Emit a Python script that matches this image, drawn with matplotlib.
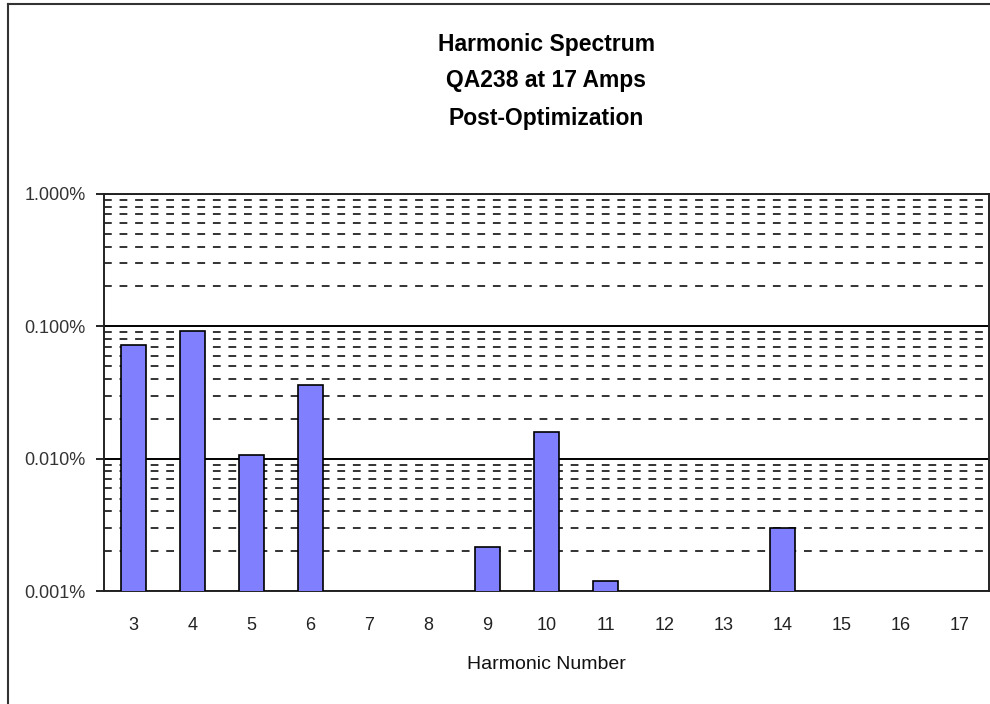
import matplotlib
matplotlib.use('Agg')
import numpy as np
import matplotlib.pyplot as plt
from matplotlib.ticker import LogLocator, FixedLocator, FuncFormatter, NullFormatter
from matplotlib.lines import Line2D

# harmonic spectrum, values in percent of fundamental (0 = not shown)
harmonics = [3, 4, 5, 6, 7, 8, 9, 10, 11, 12, 13, 14, 15, 16, 17]
values = [0.0728, 0.0927, 0.0107, 0.0359, 0, 0, 0.00216, 0.0158, 0.00119, 0, 0, 0.00298, 0, 0, 0]
title_lines = ["Harmonic Spectrum", "QA238 at 17 Amps", "Post-Optimization"]
y_ticks = [0.001, 0.01, 0.1, 1.0]

plt.rcParams['font.family'] = ['Liberation Sans', 'DejaVu Sans']

fig = plt.figure(figsize=(9.9, 7.04), dpi=100)
W, H = 990, 704

# chart-area border (Excel style), right/bottom run off the picture
fig.add_artist(Line2D([8 / W, 8 / W], [0, 1 - 4 / H], color='#333333', lw=1.5))
fig.add_artist(Line2D([8 / W, 1], [1 - 4 / H, 1 - 4 / H], color='#333333', lw=1.5))

ax = fig.add_axes([104 / W, 1 - 591 / H, 885 / W, (591 - 194) / H])
ax.set_yscale('log')

pos = np.arange(len(harmonics))
shown = [i for i, v in enumerate(values) if v > 0]
ax.bar([pos[i] for i in shown], [values[i] for i in shown], width=0.42,
       color='#8080FF', edgecolor='black', linewidth=1.2, zorder=3)

ax.set_ylim(0.001, 1.0)
ax.set_xlim(-0.5, len(harmonics) - 0.5)

ax.yaxis.set_major_locator(FixedLocator(y_ticks))
ax.yaxis.set_major_formatter(FuncFormatter(lambda v, p: '%.3f%%' % v))
ax.yaxis.set_minor_locator(LogLocator(base=10, subs=np.arange(2, 10)))
ax.yaxis.set_minor_formatter(NullFormatter())

ax.set_xticks(pos)
ax.set_xticklabels([str(h) for h in harmonics])

ax.grid(True, which='major', axis='y', color='black', linestyle='-', linewidth=1.4, zorder=1)
ax.grid(True, which='minor', axis='y', color='#333333', linestyle=(0, (4, 4)), linewidth=1.4, zorder=1)
ax.set_axisbelow(True)

ax.tick_params(axis='y', which='major', length=6, width=1.2, direction='out', pad=7,
               labelsize=13, labelcolor='#333333')
ax.tick_params(axis='y', which='minor', length=0)
ax.tick_params(axis='x', length=0, pad=19, labelsize=13, labelcolor='#222222')

for s in ax.spines.values():
    s.set_linewidth(1.4)
    s.set_color('#222222')

ax.set_xlabel("Harmonic Number", fontsize=14, color='#111111')
ax.xaxis.set_label_coords(0.5, -0.164)

for txt, yy in zip(title_lines, [45, 81, 118]):
    fig.text(546 / W, 1 - yy / H, txt, ha='center', va='center',
             fontsize=16.5, fontweight='bold', color='black')

fig.savefig('out.png', dpi=100)
plt.close('all')
